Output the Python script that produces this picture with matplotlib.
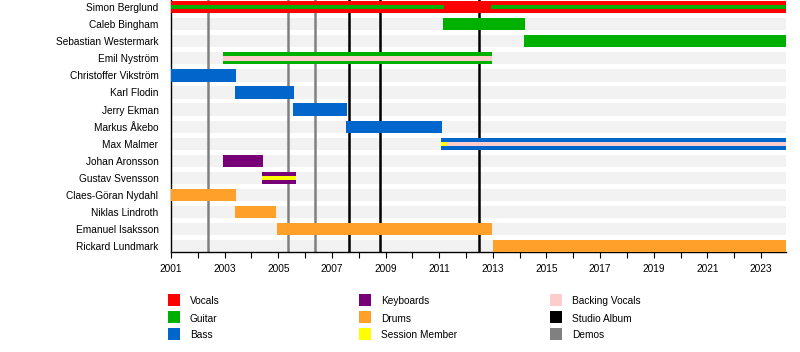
import matplotlib
matplotlib.use("Agg")
import matplotlib.pyplot as plt
from matplotlib.patches import Rectangle

plt.rcParams['font.family'] = ['Liberation Sans', 'DejaVu Sans']

members = ["Simon Berglund", "Caleb Bingham", "Sebastian Westermark", "Emil Nyström",
           "Christoffer Vikström", "Karl Flodin", "Jerry Ekman", "Markus Åkebo",
           "Max Malmer", "Johan Aronsson", "Gustav Svensson", "Claes-Göran Nydahl",
           "Niklas Lindroth", "Emanuel Isaksson", "Rickard Lundmark"]

start_year = 2001.0
end_year = 2023.93

# main bars
bar_member = ["Simon Berglund", "Caleb Bingham", "Sebastian Westermark", "Emil Nyström",
              "Christoffer Vikström", "Karl Flodin", "Jerry Ekman", "Markus Åkebo",
              "Max Malmer", "Johan Aronsson", "Gustav Svensson", "Claes-Göran Nydahl",
              "Niklas Lindroth", "Emanuel Isaksson", "Rickard Lundmark"]
bar_start = [2001.0, 2011.15, 2014.17, 2002.94, 2001.0, 2003.39, 2005.55, 2007.53,
             2011.07, 2002.94, 2004.38, 2001.0, 2003.39, 2004.95, 2013.01]
bar_end = [2023.93, 2014.2, 2023.93, 2012.96, 2003.42, 2005.58, 2007.56, 2011.11,
           2023.93, 2004.43, 2005.66, 2003.42, 2004.92, 2012.97, 2023.93]
bar_role = ["Vocals", "Guitar", "Guitar", "Guitar", "Bass", "Bass", "Bass", "Bass",
            "Bass", "Keyboards", "Keyboards", "Drums", "Drums", "Drums", "Drums"]

# thin stripes inside bars
stripe_member = ["Simon Berglund", "Simon Berglund", "Emil Nyström", "Max Malmer",
                 "Max Malmer", "Gustav Svensson"]
stripe_start = [2001.0, 2012.94, 2002.94, 2011.07, 2011.3, 2004.38]
stripe_end = [2011.18, 2023.93, 2012.96, 2011.3, 2023.93, 2005.66]
stripe_role = ["Guitar", "Guitar", "Backing Vocals", "Session Member",
               "Backing Vocals", "Session Member"]

album_years = [2007.65, 2008.81, 2012.5]
demo_years = [2002.39, 2005.38, 2006.38]

role_colors = {
    "Vocals": "#ff0000",
    "Guitar": "#00b000",
    "Bass": "#0066cc",
    "Keyboards": "#770077",
    "Drums": "#ffa02a",
    "Session Member": "#ffff00",
    "Backing Vocals": "#ffcccc",
    "Studio Album": "#000000",
    "Demos": "#808080",
}

fig = plt.figure(figsize=(8, 3.52), dpi=100)
ax = fig.add_axes([171/800, 1 - 252/352, (786 - 171)/800, 252/352])

row_h = 0.72
idx = {m: i for i, m in enumerate(members)}

# background bands
for i in range(len(members)):
    ax.barh(i, end_year - start_year, left=start_year, height=row_h,
            color="#f2f2f2", zorder=1, linewidth=0)

# event lines
for x in demo_years:
    ax.axvline(x, color=role_colors["Demos"], lw=1.8, zorder=2)
for x in album_years:
    ax.axvline(x, color=role_colors["Studio Album"], lw=1.8, zorder=2)

for m, s, e, r in zip(bar_member, bar_start, bar_end, bar_role):
    ax.barh(idx[m], e - s, left=s, height=row_h, color=role_colors[r],
            zorder=3, linewidth=0)
for m, s, e, r in zip(stripe_member, stripe_start, stripe_end, stripe_role):
    h = 0.2 if m == "Simon Berglund" else 0.26
    ax.barh(idx[m], e - s, left=s, height=h, color=role_colors[r],
            zorder=4, linewidth=0)

ax.set_xlim(start_year, end_year)
ax.set_ylim(14.33, -0.41)
ax.set_yticks(range(len(members)))
ax.set_yticklabels(members, fontsize=7.3)
ax.tick_params(axis='y', length=0, pad=9)
ax.set_xticks(range(2001, 2024, 2))
ax.set_xticklabels([str(y) for y in range(2001, 2024, 2)], fontsize=7.3)
ax.set_xticks(range(2002, 2024, 2), minor=True)
ax.tick_params(axis='x', which='both', length=4, width=0.8, direction='out', pad=5)
for sp in ["top", "right"]:
    ax.spines[sp].set_visible(False)
ax.spines["left"].set_linewidth(1.0)
ax.spines["bottom"].set_linewidth(1.0)
ax.set_facecolor("white")

# legend
legend_items = [["Vocals", "Guitar", "Bass"],
                ["Keyboards", "Drums", "Session Member"],
                ["Backing Vocals", "Studio Album", "Demos"]]
col_x = [168, 359, 550]
row_y = [300, 317, 334]
for c, col in enumerate(legend_items):
    for r, name in enumerate(col):
        x0 = col_x[c]
        yc = row_y[r]
        fig.patches.append(Rectangle((x0/800, 1 - (yc + 6)/352), 12/800, 12/352,
                                     transform=fig.transFigure,
                                     facecolor=role_colors[name], edgecolor="none"))
        fig.text((x0 + 22)/800, 1 - (yc + 1.5)/352, name, fontsize=7.3,
                 va="center", ha="left")

fig.savefig("out.png", dpi=100)
